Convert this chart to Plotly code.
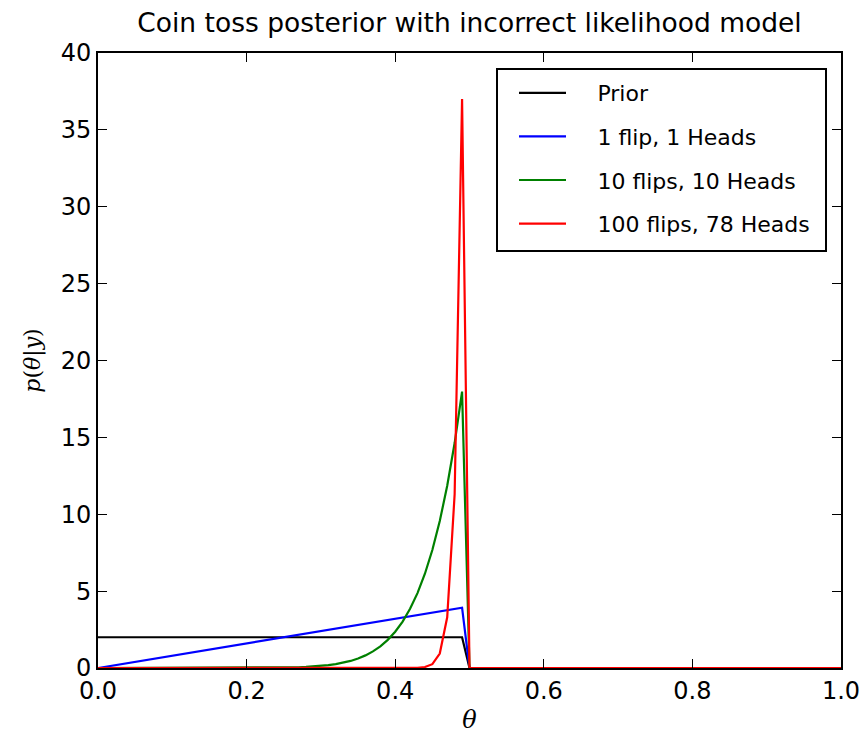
import plotly.graph_objects as go

# Data
prior_x = [0.0, 0.49, 0.50, 1.0]
prior_y = [2.0, 2.0, 0.0, 0.0]

one_x = [0.0, 0.49, 0.50, 1.0]
one_y = [0.0, 3.92, 0.0, 0.0]

ten_x = [0.0, 0.20, 0.21, 0.22, 0.23, 0.24, 0.25, 0.26, 0.27, 0.28, 0.29,
         0.30, 0.31, 0.32, 0.33, 0.34, 0.35, 0.36, 0.37, 0.38, 0.39,
         0.40, 0.41, 0.42, 0.43, 0.44, 0.45, 0.46, 0.47, 0.48, 0.49,
         0.50, 1.0]
ten_y = [0.0, 0.002, 0.004, 0.006, 0.009, 0.014, 0.022, 0.032, 0.046, 0.067, 0.095,
         0.133, 0.184, 0.254, 0.35, 0.46, 0.62, 0.82, 1.08, 1.41, 1.83,
         2.36, 3.02, 3.85, 4.87, 6.13, 7.67, 9.56, 11.85, 14.63, 17.98,
         0.0, 0.0]

hundred_x = [0.0, 0.42, 0.43, 0.44, 0.45, 0.46, 0.47, 0.48, 0.49, 0.50, 1.0]
hundred_y = [0.0, 0.004, 0.016, 0.065, 0.25, 0.94, 3.3, 11.3, 37.0, 0.0, 0.0]

names = ["Prior", "1 flip, 1 Heads", "10 flips, 10 Heads", "100 flips, 78 Heads"]
colors = ["#000000", "#0000ff", "#008000", "#ff0000"]
xs_all = [prior_x, one_x, ten_x, hundred_x]
ys_all = [prior_y, one_y, ten_y, hundred_y]

x_ticks = [0.0, 0.2, 0.4, 0.6, 0.8, 1.0]
y_ticks = [0, 5, 10, 15, 20, 25, 30, 35, 40]

W, H = 866, 734
L, R, T, B = 98, 25, 53, 66
PW, PH = W - L - R, H - T - B


def px_x(p):
    return (p - L) / PW


def px_y(p):
    return (H - B - p) / PH


gap = "\u2003\u2009"  # spacing between legend sample line and label

fig = go.Figure()
for i in range(len(names)):
    fig.add_trace(go.Scatter(
        x=xs_all[i], y=ys_all[i], mode="lines", name=gap + names[i],
        legendgroup=f"g{i}",
        line=dict(color=colors[i], width=2.2),
    ))

font_main = "DejaVu Sans, Verdana, sans-serif"

fig.update_layout(
    width=W, height=H,
    margin=dict(l=L, r=R, t=T, b=B, autoexpand=False),
    paper_bgcolor="white", plot_bgcolor="white",
    font=dict(family=font_main, color="black"),
    title=dict(text="Coin toss posterior with incorrect likelihood model",
               x=0.5, xanchor="center", y=1 - 23 / H, yanchor="middle",
               xref="paper",
               font=dict(size=26.5, family=font_main, color="black")),
    showlegend=True,
    legend=dict(
        x=px_x(514), y=px_y(72), xanchor="left", yanchor="top",
        bgcolor="rgba(0,0,0,0)", borderwidth=0,
        font=dict(size=22, family=font_main, color="black"),
        traceorder="grouped", tracegroupgap=12,
        itemwidth=47,
    ),
    shapes=[dict(
        type="rect", xref="paper", yref="paper",
        x0=px_x(497), x1=px_x(826), y0=px_y(251), y1=px_y(69),
        line=dict(color="black", width=2), fillcolor="white", layer="above",
    )],
)

fig.update_xaxes(
    range=[0, 1], tickvals=x_ticks, ticktext=[f"{v:.1f}" for v in x_ticks],
    showgrid=False, zeroline=False, automargin=False,
    showline=True, linecolor="black", linewidth=2, mirror="ticks",
    ticks="inside", ticklen=9, tickwidth=1, tickcolor="black",
    tickfont=dict(size=24, family=font_main, color="black"),
    title=dict(text="<i>θ</i>", font=dict(size=24, family="DejaVu Serif, serif", color="black"),
               standoff=14),
)
fig.update_yaxes(
    range=[0, 40], tickvals=y_ticks, ticktext=[str(v) for v in y_ticks],
    showgrid=False, zeroline=False, automargin=False,
    showline=True, linecolor="black", linewidth=2, mirror="ticks",
    ticks="inside", ticklen=9, tickwidth=1, tickcolor="black",
    tickfont=dict(size=24, family=font_main, color="black"),
    ticklabelstandoff=0,
    title=dict(text="<i>p</i>(<i>θ</i>|<i>y</i>)",
               font=dict(size=22, family="DejaVu Serif, serif", color="black"),
               standoff=14),
)

fig.write_html("out.html")
